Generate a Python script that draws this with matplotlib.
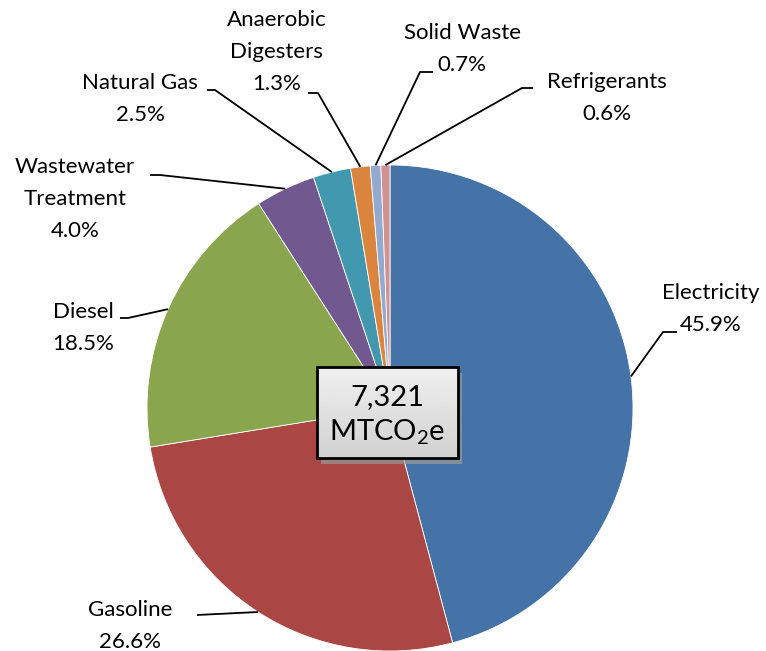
import numpy as np
import matplotlib.pyplot as plt
from matplotlib.patches import Rectangle

plt.rcParams["font.family"] = ["Lato", "DejaVu Sans"]
plt.rcParams["mathtext.default"] = "regular"

# emissions by source, percent of total
sources = ["Electricity", "Gasoline", "Diesel", "Wastewater\nTreatment", "Natural Gas",
           "Anaerobic\nDigesters", "Solid Waste", "Refrigerants"]
shares = [45.9, 26.6, 18.5, 4.0, 2.5, 1.3, 0.7, 0.6]
colors = ["#4572A7", "#AA4643", "#89A54E", "#71588F", "#4198AF",
          "#DB843D", "#93A9CF", "#D19392"]
total_text = "7,321"
unit_text = "MTCO$_2$e"

W, H = 766, 651
CX, CY, R = 390, 408, 243   # pie centre/radius in pixels (y from top)

# label layout: text centre (x, y of first line), leader start, leader knee
label_pos = [(711, 293), (130, 610), (83, 312), (75, 167), (140, 83),
             (277, 20), (462, 33), (607, 82)]
leader_start = [(677, 332), (197, 615), (120, 318), (150, 175), (207, 90),
                (308, 93), (433, 72), (533, 88)]
leader_knee = [(663, 332), (197, 615), (128, 318), (160, 175), (215, 90),
               (318, 93), (420, 72), (522, 88)]


def fy(y):
    return H - y


fig = plt.figure(figsize=(W / 100, H / 100), dpi=100)
ax = fig.add_axes([0, 0, 1, 1])

ax.pie(shares, colors=colors, startangle=90, counterclock=False,
       center=(CX, fy(CY)), radius=R, frame=True,
       wedgeprops=dict(edgecolor="white", linewidth=0.6))
ax.set_xlim(0, W)
ax.set_ylim(0, H)
ax.set_aspect("equal")
ax.axis("off")

vals = np.array(shares)
mids = 90 - 360 * (np.cumsum(vals) - vals / 2) / vals.sum()

for i, (name, s) in enumerate(zip(sources, shares)):
    lines = name.split("\n") + [f"{s:.1f}%"]
    tx, ty = label_pos[i]
    for j, ln in enumerate(lines):
        ax.text(tx, fy(ty + j * 32), ln, ha="center", va="center",
                fontsize=16, color="black")
    ang = np.deg2rad(mids[i])
    ex = CX + R * np.cos(ang)
    ey = fy(CY) + R * np.sin(ang)
    sx, sy = leader_start[i]
    kx, ky = leader_knee[i]
    ax.plot([sx, kx, ex], [fy(sy), fy(ky), ey], color="black", lw=1.3,
            solid_capstyle="butt", zorder=5)

# centre total box with gradient fill and shadow
bx0, bx1, by0, by1 = 317, 458, 367, 458
ax.add_patch(Rectangle((bx0 + 4, fy(by1 + 6)), bx1 - bx0, by1 - by0,
                       facecolor="#9a9a9a", edgecolor="none", zorder=6,
                       hatch="....", alpha=0.7))
grad = np.linspace(0.94, 0.82, 100).reshape(-1, 1)
ax.imshow(grad, cmap="gray", vmin=0, vmax=1, aspect="auto",
          extent=(bx0, bx1, fy(by1), fy(by0)), zorder=7)
ax.add_patch(Rectangle((bx0, fy(by1)), bx1 - bx0, by1 - by0,
                       facecolor="none", edgecolor="black", lw=2, zorder=8))
ax.text((bx0 + bx1) / 2, fy(397), total_text, ha="center", va="center",
        fontsize=21, zorder=9)
ax.text((bx0 + bx1) / 2, fy(432), unit_text, ha="center", va="center",
        fontsize=21, zorder=9)
ax.set_xlim(0, W)
ax.set_ylim(0, H)

fig.savefig("out.png", dpi=100)
